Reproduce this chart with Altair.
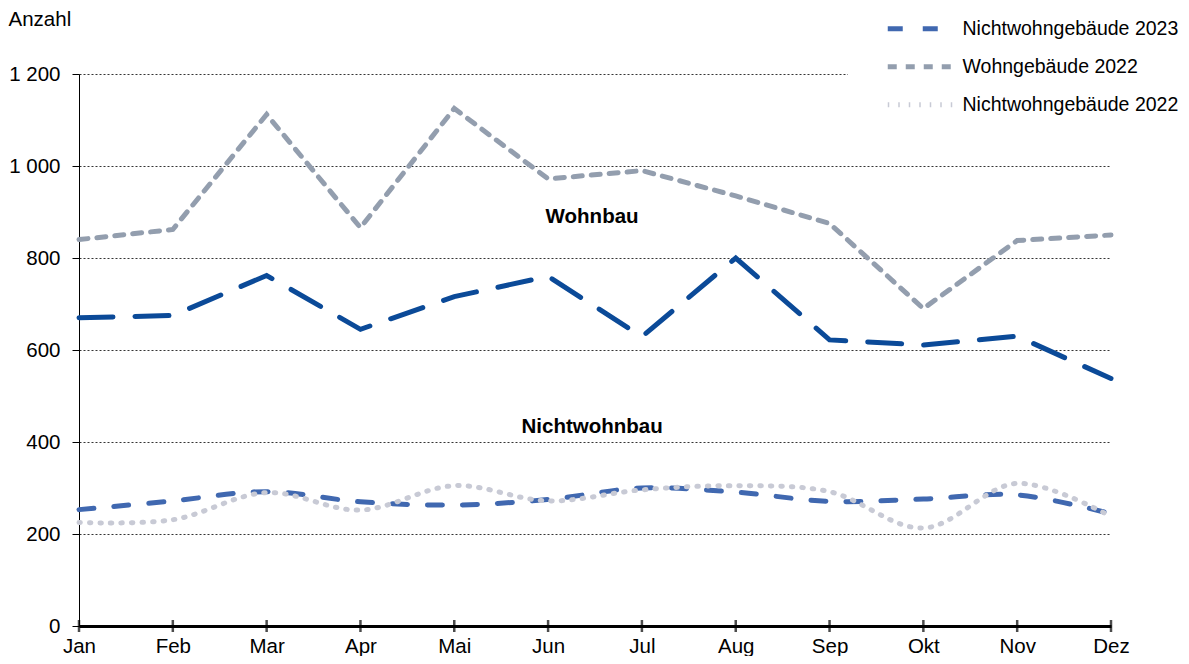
import altair as alt
import pandas as pd

months = ["Jan", "Feb", "Mar", "Apr", "Mai", "Jun", "Jul", "Aug", "Sep", "Okt", "Nov", "Dez"]
series_names = ["Wohngebäude 2023", "Nichtwohngebäude 2023", "Wohngebäude 2022", "Nichtwohngebäude 2022"]
wohn_2023 = [670, 675, 762, 645, 716, 760, 629, 800, 622, 611, 630, 538]
nichtwohn_2023 = [253, 272, 292, 270, 263, 275, 300, 291, 271, 276, 285, 244]
wohn_2022 = [840, 862, 1112, 866, 1125, 972, 990, 935, 875, 690, 838, 850]
nichtwohn_2022 = [225, 231, 290, 252, 305, 272, 296, 305, 292, 213, 310, 238]
y_ticks = [0, 200, 400, 600, 800, 1000, 1200]
annot_labels = ["Wohnbau", "Nichtwohnbau"]
annot_values = [890, 432]
annot_month = ["Jun", "Jun"]

colors = ["#0b4a98", "#4068b0", "#939eae", "#c8cad5"]
dashes = [[34, 22], [15, 20], [9, 9], [1.5, 9]]

rows = []
for name, vals in zip(series_names, [wohn_2023, nichtwohn_2023, wohn_2022, nichtwohn_2022]):
    for m, v in zip(months, vals):
        rows.append({"Monat": m, "Wert": v, "Serie": name})
df = pd.DataFrame(rows)
ann = pd.DataFrame({"Monat": annot_month, "Wert": annot_values, "label": annot_labels})

FONT = "Liberation Sans"
FS = 20.5

x_enc = alt.X("Monat:O", sort=months,
              scale=alt.Scale(type="point", padding=0),
              axis=alt.Axis(title=None, labelAngle=0, labelFontSize=FS, labelColor="black",
                            labelFont=FONT, ticks=False, domainColor="black",
                            domainWidth=3, labelPadding=10, grid=False))
y_enc = alt.Y("Wert:Q", scale=alt.Scale(domain=[0, 1200], nice=False),
              axis=alt.Axis(values=y_ticks, title="Anzahl", titleAngle=0, titleAlign="left",
                            titleBaseline="middle", titleX=-71, titleY=-55,
                            titleFontSize=FS, titleFontWeight="normal", titleFont=FONT,
                            titleColor="black",
                            labelFontSize=FS, labelFont=FONT, labelColor="black",
                            labelExpr="replace(format(datum.value, ','), ',', ' ')",
                            labelPadding=12, tickSize=7, tickColor="black",
                            domainColor="black", domainWidth=1,
                            gridColor="black", gridDash=[2, 2], gridWidth=0.8))

color_enc = alt.Color("Serie:N", scale=alt.Scale(domain=series_names, range=colors),
                      legend=alt.Legend(title=None, orient="none", legendX=769, legendY=-130,
                                        fillColor="white", padding=37, symbolType="M-1,0H9",
                                        symbolSize=196, symbolStrokeWidth=5,
                                        labelFontSize=19.5, labelFont=FONT, labelColor="black",
                                        labelOffset=58, rowPadding=17, labelLimit=400))
dash_enc = alt.StrokeDash("Serie:N", scale=alt.Scale(domain=series_names, range=dashes),
                          legend=alt.Legend(title=None))

layers = []
for name, interp in zip(series_names, ["linear", "catmull-rom", "linear", "catmull-rom"]):
    layers.append(
        alt.Chart(df).transform_filter(alt.datum.Serie == name)
        .mark_line(strokeWidth=5, strokeCap="round", interpolate=interp)
        .encode(x=x_enc, y=y_enc, color=color_enc, strokeDash=dash_enc)
    )

ticks = alt.Chart(pd.DataFrame({"Monat": months})).mark_tick(
    color="black", thickness=2.5, size=12, orient="vertical"
).encode(x=alt.X("Monat:O", sort=months), y=alt.datum(0))

text = alt.Chart(ann).mark_text(fontSize=FS, fontWeight="bold", font=FONT, color="black",
                                dx=44, align="center", baseline="middle").encode(
    x=alt.X("Monat:O", sort=months), y=alt.Y("Wert:Q"), text="label:N")

chart = alt.layer(*layers, ticks, text).properties(
    width=1032, height=552,
    autosize=alt.AutoSizeParams(type="none"),
    padding={"left": 71, "top": 66, "right": 70, "bottom": 30},
).configure(font=FONT).configure_view(stroke="transparent", strokeWidth=0)

chart.save("out.html", embed_options={"renderer": "svg", "actions": False})
